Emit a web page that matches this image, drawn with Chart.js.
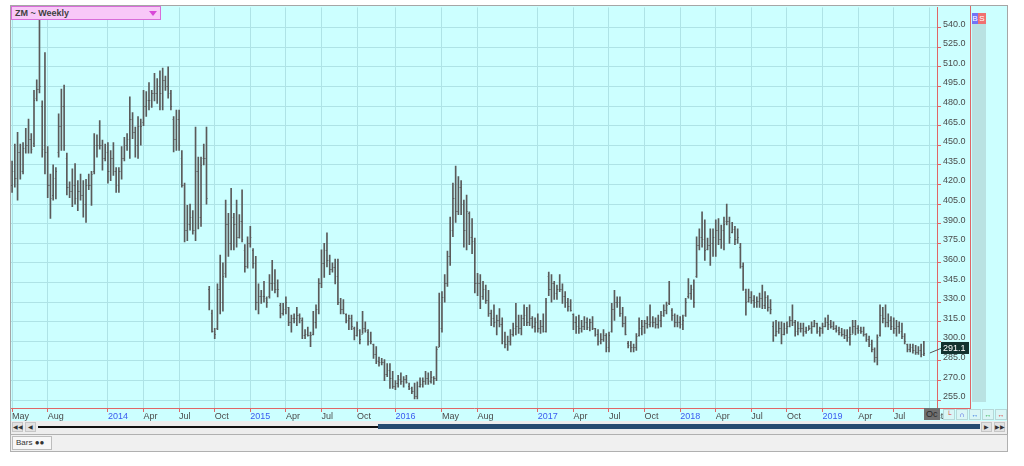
<!DOCTYPE html>
<html><head><meta charset="utf-8">
<script src="https://cdn.jsdelivr.net/npm/chart.js@4.4.1/dist/chart.umd.min.js"></script>
<style>
html,body{margin:0;padding:0;background:#fff;width:1024px;height:466px;overflow:hidden;font-family:"Liberation Sans",Arial,sans-serif;}
.abs{position:absolute;box-sizing:border-box;}
#panel{left:10px;top:5px;width:998px;height:416px;background:#CCFFFF;border:1px solid #A6A6A6;border-bottom:none;}
#cv{position:absolute;left:0;top:0;width:1024px;height:466px;}
#title{left:11px;top:6px;width:150px;height:14px;background:#F8C8F8;border:1px solid #D86CD8;font-size:9px;font-weight:bold;color:#404040;line-height:12px;padding-left:3px;}
#tri{left:149px;top:11px;width:0;height:0;border-left:4px solid transparent;border-right:4px solid transparent;border-top:5px solid #D848D8;}
#redv{left:970px;top:6px;width:1px;height:403px;background:#E06666;}
#redb{left:937px;top:408px;width:34px;height:1px;background:#E06666;}
#strip{left:972px;top:24px;width:14px;height:378px;background:#B9E2E2;}
#bb{left:972px;top:13px;width:6px;height:11px;background:#7373F5;color:#fff;font-size:8px;line-height:11px;text-align:center;}
#sb{left:978px;top:13px;width:8px;height:11px;background:#F07070;color:#fff;font-size:8px;line-height:11px;text-align:center;}
#oc{left:924px;top:408px;width:16px;height:12px;background:#707070;color:#2a2a2a;font-size:9px;line-height:12px;overflow:hidden;padding-left:2px;}
.btn{top:409px;width:12px;height:11px;border:1px solid #B6D8D8;background:#D9F6F6;font-size:7px;line-height:9px;text-align:center;font-weight:bold;}
#scroll{left:10px;top:421px;width:998px;height:13px;background:#EDEDED;border-left:1px solid #A6A6A6;border-right:1px solid #A6A6A6;}
.sbtn{top:422px;width:11px;height:10px;background:#E2E2E2;border:1px solid #C6C6C6;font-size:6px;line-height:8px;text-align:center;color:#333;}
#sline{left:38px;top:426px;width:340px;height:2px;background:#111;}
#sbar{left:378px;top:424px;width:602px;height:5px;background:#274B70;}
#status{left:10px;top:434px;width:998px;height:18px;background:#F0F0F0;border:1px solid #B0B0B0;}
#tab{left:12px;top:436px;width:40px;height:14px;background:#F7F7F7;border:1px solid #BDBDBD;font-size:8px;line-height:12px;color:#333;padding-left:3px;}
</style></head>
<body>
<div id="panel" class="abs"></div>
<canvas id="cv" width="1024" height="466"></canvas>
<div id="title" class="abs">ZM ~ Weekly</div>
<div id="tri" class="abs"></div>
<div id="redv" class="abs"></div>
<div id="redb" class="abs"></div>
<div id="strip" class="abs"></div>
<div id="bb" class="abs">B</div>
<div id="sb" class="abs">S</div>
<div id="oc" class="abs">Oc</div>
<div class="abs btn" style="left:943px;color:#E03030">&#x2514;</div>
<div class="abs btn" style="left:956px;color:#3040E0">&#x2229;</div>
<div class="abs btn" style="left:969px;color:#3070E0">&#x2194;</div>
<div class="abs btn" style="left:982px;color:#30B050">&#x2194;</div>
<div class="abs btn" style="left:995px;color:#E03030">&#x2194;</div>
<div id="scroll" class="abs"></div>
<div class="abs sbtn" style="left:12px">&#9664;&#9664;</div>
<div class="abs sbtn" style="left:25px">&#9664;</div>
<div id="sline" class="abs"></div>
<div id="sbar" class="abs"></div>
<div class="abs sbtn" style="left:981px">&#9654;</div>
<div class="abs sbtn" style="left:994px">&#9654;&#9654;</div>
<div id="status" class="abs"></div>
<div id="tab" class="abs">Bars &#9679;&#9679;</div>
<script>
// Weekly OHLC, ZM continuation, first week of May 2013 = week 0
const highs = [
438,451,460,451,452,463,470,459,492,500,
548,484,521,449,428,435,433,474,493,496,
444,422,432,436,423,428,423,424,428,430,
459,458,469,454,451,452,446,452,433,433,
449,456,459,487,475,464,472,470,492,491,
498,492,505,501,507,509,503,510,492,472,
477,477,446,421,404,405,400,464,441,441,
451,464,342,324,310,344,366,360,408,398,
417,398,408,397,416,374,380,388,371,365,
344,339,346,334,351,362,355,347,329,329,
334,326,320,321,326,321,318,309,311,307,
323,328,348,370,375,383,366,360,363,363,
333,332,321,320,320,311,315,309,323,315,
309,307,298,296,288,287,286,283,283,277,
270,274,276,273,274,268,265,268,269,272,
272,277,276,277,273,296,337,338,351,369,
395,421,434,426,423,408,412,399,394,379,
352,351,346,343,339,324,328,320,325,318,
307,304,309,314,329,320,320,328,326,328,
319,318,321,316,321,333,353,351,346,343,
351,344,338,333,332,321,319,320,316,319,
318,317,319,310,309,306,309,306,307,329,
339,334,334,326,319,300,300,298,306,318,
316,316,319,328,319,318,320,323,328,330,
346,325,321,320,319,320,333,348,343,347,
380,386,399,393,379,386,386,393,394,389,
395,405,395,391,388,386,375,360,340,340,
338,335,334,337,343,338,335,332,315,316,
315,315,314,315,319,328,316,315,314,314,
311,312,315,316,314,311,314,318,320,316,
315,312,311,310,309,309,311,316,316,312,
311,311,306,304,301,295,305,328,326,328,
321,319,318,316,315,314,306,298,298,298,
297,296,298,300];
const lows = [
414,418,408,424,428,444,444,444,449,484,
490,441,428,410,394,408,409,441,446,446,
412,410,403,405,400,408,395,391,416,404,
428,441,447,431,438,421,423,427,414,414,
424,438,446,440,455,441,440,450,465,472,
477,479,484,482,477,477,492,486,477,445,
446,446,418,376,377,385,382,377,386,388,
435,405,324,307,302,309,321,323,349,365,
370,370,372,379,376,353,356,372,356,324,
321,329,330,326,333,339,337,334,318,320,
321,312,307,314,312,314,302,302,304,296,
305,310,321,341,349,357,351,353,344,328,
321,321,314,309,309,301,304,298,306,307,
297,298,287,283,281,282,270,273,264,264,
263,265,267,265,268,263,260,256,256,265,
265,267,267,268,267,270,296,307,330,342,
358,380,391,397,397,372,370,374,367,337,
335,325,332,329,319,312,311,305,311,298,
295,293,297,304,305,306,305,312,312,312,
310,307,307,306,307,307,335,330,332,332,
338,329,326,323,323,309,306,306,307,309,
309,308,309,304,297,298,300,292,292,307,
316,326,319,311,305,295,292,292,293,304,
305,306,310,311,311,310,310,311,319,321,
328,316,311,311,310,309,319,333,332,326,
349,370,372,362,370,358,365,365,374,371,
370,389,375,383,374,375,356,339,320,330,
329,326,326,326,325,325,323,321,300,304,
306,298,305,306,311,312,304,305,307,304,
306,309,306,311,306,304,306,311,309,310,
309,307,305,304,302,300,297,306,305,306,
306,304,300,296,292,284,282,304,314,311,
311,309,306,304,306,302,298,292,292,291,
290,290,288,289];
const opens = [
420,430,425,445,430,448,450,455,452,486,
493,480,450,445,420,412,425,445,465,480,
440,418,415,420,410,415,412,405,420,420,
430,450,450,450,440,445,430,440,430,420,
430,440,450,455,470,460,450,465,468,480,
485,485,490,490,495,490,500,495,490,470,
455,470,440,420,385,390,395,385,430,395,
440,440,340,322,308,310,340,330,352,390,
375,395,390,380,392,370,358,375,370,360,
330,335,335,333,335,345,345,340,328,322,
325,326,315,318,318,320,316,305,306,305,
306,315,325,345,360,370,362,355,357,350,
330,325,321,316,318,310,305,309,306,310,
307,300,298,290,285,284,284,275,278,272,
266,268,271,270,271,266,264,262,258,266,
267,270,272,270,273,272,296,310,334,345,
365,385,410,400,418,405,385,398,380,377,
345,345,335,340,332,322,318,315,316,313,
300,298,300,306,310,312,310,318,320,315,
318,312,315,310,312,308,350,340,345,337,
340,340,335,330,327,321,315,312,310,312,
315,311,315,310,306,300,302,305,296,308,
325,330,330,322,314,299,297,296,296,305,
310,312,314,313,315,315,313,316,320,324,
329,324,320,315,315,313,320,335,337,340,
350,374,380,378,371,374,375,380,385,378,
385,392,392,384,386,378,372,358,338,331,
334,332,330,331,333,328,334,326,312,305,
308,310,306,310,312,316,315,308,310,310,
308,309,310,312,314,308,310,312,315,313,
312,310,309,307,306,305,303,306,312,310,
309,308,306,302,298,294,288,305,320,318,
315,316,312,310,312,308,304,298,294,296,
293,292,293,290];
const closes = [
430,425,445,430,448,450,455,447,485,493,
495,447,445,420,410,425,430,465,480,450,
418,415,420,410,415,412,405,420,420,428,
450,450,450,440,445,430,440,430,420,430,
440,450,455,470,460,450,465,465,480,485,
485,490,490,495,490,500,495,490,480,455,
470,450,420,385,390,395,385,430,395,435,
440,410,330,308,306,340,330,350,390,375,
395,390,380,392,378,358,375,380,360,330,
335,335,335,330,345,345,340,340,322,325,
330,315,318,318,320,318,305,306,305,305,
315,325,345,360,370,362,355,357,350,330,
325,322,316,318,312,305,310,302,310,309,
300,300,290,285,284,284,275,278,272,266,
268,271,270,271,269,264,262,258,266,267,
270,272,270,273,272,294,310,334,345,365,
385,410,400,418,405,385,400,380,377,345,
345,335,340,332,322,318,315,316,313,300,
298,300,306,310,312,310,318,320,315,318,
312,315,310,312,308,330,340,345,337,340,
340,335,330,327,324,315,312,310,312,315,
311,315,310,306,300,302,305,296,305,325,
330,330,322,314,306,297,296,296,304,310,
312,314,313,315,315,313,316,320,324,328,
330,320,315,315,313,316,330,337,340,330,
374,380,378,370,374,375,380,385,378,385,
390,392,380,386,378,380,358,340,330,334,
332,330,331,333,328,334,326,325,305,308,
310,306,310,312,316,315,308,310,310,308,
309,310,312,314,308,310,312,315,313,312,
310,309,307,306,305,303,306,312,310,309,
308,306,302,298,294,288,303,320,318,315,
316,312,310,312,308,304,300,294,296,293,
292,293,290,291.1];
// Axis ticks: week index of each labelled month and its label
const tickWeeks = [0,13,35,48,61,74,87,100,113,126,140,157,170,192,205,218,231,244,257,270,283,296,309,322,335];
const tickLabels = ['May','Aug','2014','Apr','Jul','Oct','2015','Apr','Jul','Oct','2016','May','Aug','2017','Apr','Jul','Oct','2018','Apr','Jul','Oct','2019','Apr','Jul','Oct'];
const yTicks = [255,270,285,300,315,330,345,360,375,390,405,420,435,450,465,480,495,510,525,540];

const BAR = '#5a5a5a';
const barData = highs.map((h, i) => ({x: i, y: [lows[i], h]}));

const ohlcTicks = {
  id: 'ohlcTicks',
  afterDatasetsDraw(chart) {
    const {ctx, scales: {x, y}, chartArea} = chart;
    ctx.save();
    ctx.beginPath();
    ctx.rect(chartArea.left, chartArea.top, chartArea.right - chartArea.left, chartArea.bottom - chartArea.top);
    ctx.clip();
    ctx.strokeStyle = BAR;
    ctx.lineWidth = 1;
    ctx.beginPath();
    for (let i = 0; i < highs.length; i++) {
      const px = x.getPixelForValue(i);
      const yo = Math.round(y.getPixelForValue(opens[i])) + 0.5;
      const yc = Math.round(y.getPixelForValue(closes[i])) + 0.5;
      ctx.moveTo(px - 1, yo); ctx.lineTo(px, yo);
      ctx.moveTo(px, yc); ctx.lineTo(px + 1, yc);
    }
    ctx.stroke();
    ctx.restore();
  },
  afterDraw(chart) {
    const {ctx, scales: {x, y}} = chart;
    const last = closes.length - 1;
    const py = y.getPixelForValue(closes[last]);
    const px = x.getPixelForValue(last);
    ctx.save();
    ctx.strokeStyle = '#555';
    ctx.lineWidth = 1;
    ctx.beginPath();
    ctx.moveTo(px + 6, py);
    ctx.lineTo(942, py - 5);
    ctx.stroke();
    ctx.fillStyle = '#12302E';
    ctx.fillRect(941, py - 11, 28, 12);
    ctx.fillStyle = '#ffffff';
    ctx.font = '9px "Liberation Sans"';
    ctx.textBaseline = 'middle';
    ctx.textAlign = 'left';
    ctx.fillText(closes[last].toFixed(1), 943, py - 4.5);
    ctx.restore();
  }
};

Chart.defaults.font.family = '"Liberation Sans", Arial, sans-serif';
Chart.defaults.font.size = 9;

new Chart(document.getElementById('cv'), {
  type: 'bar',
  data: { datasets: [{ data: barData, backgroundColor: BAR, borderWidth: 0, barThickness: 1, grouped: false }] },
  options: {
    responsive: false, animation: false, events: [],
    layout: { padding: { left: 11, top: 6, right: 0, bottom: 0 } },
    plugins: { legend: { display: false }, tooltip: { enabled: false } },
    scales: {
      x: {
        type: 'linear', min: -0.4, max: 337.8, offset: false,
        afterBuildTicks: s => { s.ticks = tickWeeks.map(v => ({ value: v })); },
        afterFit: s => { s.height = 58; },
        ticks: {
          autoSkip: false, maxRotation: 0, minRotation: 0, align: 'start', padding: -1,
          color: c => /^\d{4}$/.test(tickLabels[c.index]) ? '#3B5BF0' : '#4A4A4A',
          callback: (v, i) => tickLabels[i]
        },
        grid: { color: '#AEE3E6', tickColor: '#E06666', tickLength: 4, offset: false },
        border: { color: '#E06666' }
      },
      y: {
        position: 'right', min: 249, max: 555.5,
        afterBuildTicks: s => { s.ticks = yTicks.map(v => ({ value: v })); },
        afterFit: s => { s.width = 87; },
        ticks: { padding: 2, labelOffset: -3.5, crossAlign: 'near', color: '#4A4A4A', callback: v => v.toFixed(1) },
        grid: { color: '#AEE3E6', tickColor: '#E06666', tickLength: 4 },
        border: { color: '#E06666' }
      }
    }
  },
  plugins: [ohlcTicks]
});
</script>
</body></html>
